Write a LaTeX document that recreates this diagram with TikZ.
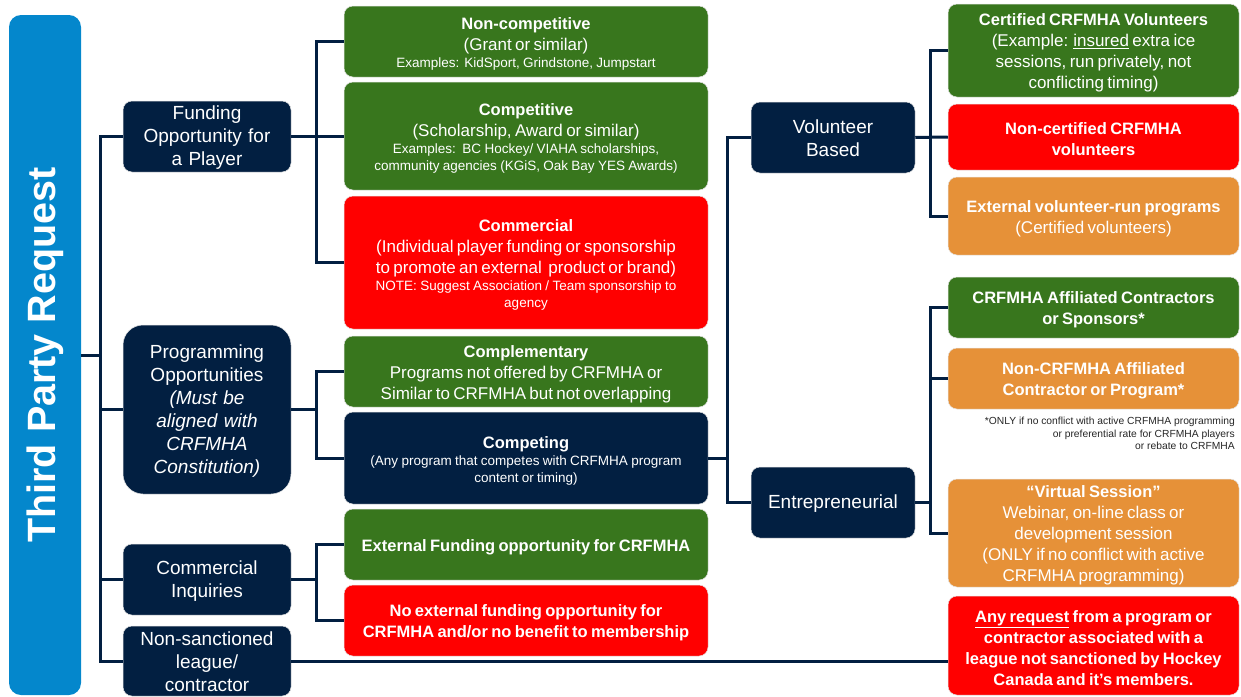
\documentclass[tikz,border=0pt]{standalone}
\usepackage{fontspec}
\setmainfont{Liberation Sans}
\definecolor{navy}{RGB}{2,31,65}
\definecolor{grn}{RGB}{56,118,29}
\definecolor{rd}{RGB}{255,0,0}
\definecolor{orng}{RGB}{230,145,56}
\definecolor{blu}{RGB}{4,135,204}
\newcommand\myfs[2]{\fontsize{#1}{#2}\selectfont}
\newcommand\Tb{\myfs{16.5}{21}\bfseries}
\newcommand\Tn{\myfs{17}{21}}
\newcommand\Ts{\myfs{13.5}{17}}
\begin{document}
\begin{tikzpicture}[x=1pt,y=-1pt,
 box/.style={rounded corners=9pt, draw=black!10, line width=0.5pt, text=white, align=center,
   inner xsep=2pt, inner ysep=0pt, execute at begin node={\rule{0pt}{#1}}},
 lvl/.style={box=16pt, fill=navy, font=\myfs{19}{23}, text width=164pt},
 mid/.style={box=17pt, text width=360pt},
 rgt/.style={box=17pt, text width=287pt},
 conn/.style={draw=navy, line width=3pt},
]
\useasboundingbox (0,0) rectangle (1241,696);
\clip (0,0) rectangle (1241,696);

% title bar
\node[fill=blu, rounded corners=12pt, rotate=90, minimum width=680pt, minimum height=72pt,
      inner sep=0pt, text=white, font=\bfseries\myfs{39.5}{42}] (bar) at (45,355) {Third Party Request};

% level 1
\node[lvl, minimum height=71pt] (fund) at (207,136.5) {Funding\\Opportunity for\\a Player};
\node[lvl, minimum height=169pt, rounded corners=20pt] (prog) at (207,409.5)
  {Programming\\Opportunities\\\textit{(Must be}\\\textit{aligned with}\\\textit{CRFMHA}\\\textit{Constitution)}};
\node[lvl, minimum height=71pt] (comm) at (207,579.5) {Commercial\\Inquiries};
\node[lvl, minimum height=70pt] (nons) at (207,661) {Non-sanctioned\\league/\\contractor};

% level 2
\node[mid, fill=grn, minimum height=71pt] (noncomp) at (526,41.5)
  {{\Tb Non-competitive\par}{\Tn (Grant or similar)\par}{\Ts Examples: KidSport, Grindstone, Jumpstart\par}};
\node[mid, fill=grn, minimum height=108pt] (compt) at (526,136)
  {{\Tb Competitive\par}{\Tn (Scholarship, Award or similar)\par}{\Ts Examples:\ \ BC Hockey/ VIAHA scholarships,\\community agencies (KGiS, Oak Bay YES Awards)\par}};
\node[mid, fill=rd, minimum height=133pt] (commer) at (526,262.5)
  {{\Tb Commercial\par}{\Tn (Individual player funding or sponsorship\\to promote an external\ \ product or brand)\par}{\Ts NOTE: Suggest Association / Team sponsorship to\\agency\par}};
\node[mid, fill=grn, minimum height=71pt] (complem) at (526,371.5)
  {{\Tb Complementary\par}{\Tn Programs not offered by CRFMHA or\\Similar to CRFMHA but not overlapping\par}};
\node[mid, fill=navy, minimum height=92pt] (competing) at (526,458)
  {{\Tb Competing\par}{\Ts (Any program that competes with CRFMHA program\\content or timing)\par}};
\node[mid, fill=grn, minimum height=71pt] (extfund) at (526,544.5)
  {{\Tb External Funding opportunity for CRFMHA\par}};
\node[mid, fill=rd, minimum height=71pt] (noext) at (526,620.5)
  {{\Tb No external funding opportunity for\\CRFMHA and/or no benefit to membership\par}};

% level 3
\node[lvl, text width=160pt, minimum height=71pt] (vol) at (833,137.5) {Volunteer\\Based};
\node[lvl, text width=160pt, minimum height=71pt] (entre) at (833,502.5) {Entrepreneurial};

% level 4
\node[rgt, fill=grn, minimum height=93pt] (cert) at (1093.5,50.5)
  {{\Tb Certified CRFMHA Volunteers\par}{\Tn (Example: \underline{insured} extra ice\\sessions, run privately, not\\conflicting timing)\par}};
\node[rgt, fill=rd, minimum height=66pt] (noncert) at (1093.5,137)
  {{\Tb Non-certified CRFMHA\\volunteers\par}};
\node[rgt, fill=orng, minimum height=78pt] (extvol) at (1093.5,216)
  {{\Tb External volunteer-run programs\par}{\Tn (Certified volunteers)\par}};
\node[rgt, fill=grn, minimum height=61pt] (aff) at (1093.5,307.5)
  {{\Tb CRFMHA Affiliated Contractors\\or Sponsors*\par}};
\node[rgt, fill=orng, minimum height=61pt] (nonaff) at (1093.5,378.5)
  {{\Tb Non-CRFMHA Affiliated\\Contractor or Program*\par}};
\node[align=right, anchor=north east, inner sep=0pt, text=black!85, font=\myfs{10.3}{12.5}] (foot) at (1235,417)
  {*ONLY if no conflict with active CRFMHA programming\\or preferential rate for CRFMHA players\\or rebate to CRFMHA};
\node[rgt, fill=orng, minimum height=108pt] (virt) at (1093.5,533)
  {{\Tb “Virtual Session”\par}{\Tn Webinar, on-line class or\\development session\\(ONLY if no conflict with active\\CRFMHA programming)\par}};
\node[rgt, fill=rd, minimum height=99pt] (anyreq) at (1093.5,645.5)
  {{\Tb \underline{Any request} from a program or\\contractor associated with a\\league not sanctioned by Hockey\\Canada and it’s members.\par}};

% connectors
\draw[conn] (bar.south) -- ++(20,0);
\draw[conn] (fund.west) -- ++(-22,0) |- (nons.west);
\draw[conn] (prog.west) -- ++(-22,0);
\draw[conn] (comm.west) -- ++(-22,0);

\draw[conn] (fund.east) -- ++(26,0);
\draw[conn] (noncomp.west) -- ++(-27,0) |- (commer.west);
\draw[conn] (compt.west) -- ++(-27,0);

\draw[conn] (prog.east) -- ++(26,0);
\draw[conn] (complem.west) -- ++(-27,0) |- (competing.west);

\draw[conn] (comm.east) -- ++(26,0);
\draw[conn] (extfund.west) -- ++(-27,0) |- (noext.west);

\draw[conn] (competing.east) -- ++(20,0);
\draw[conn] (vol.west) -- ++(-23,0) |- (entre.west);

\draw[conn] (vol.east) -- (noncert.west);
\draw[conn] (cert.west) -- ++(-17,0) |- (extvol.west);

\draw[conn] (entre.east) -- ++(16,0);
\draw[conn] (aff.west) -- ++(-17,0) |- (virt.west);
\draw[conn] (nonaff.west) -- ++(-17,0);

\draw[conn] (nons.east) -- (nons.east -| anyreq.west);
\end{tikzpicture}
\end{document}
